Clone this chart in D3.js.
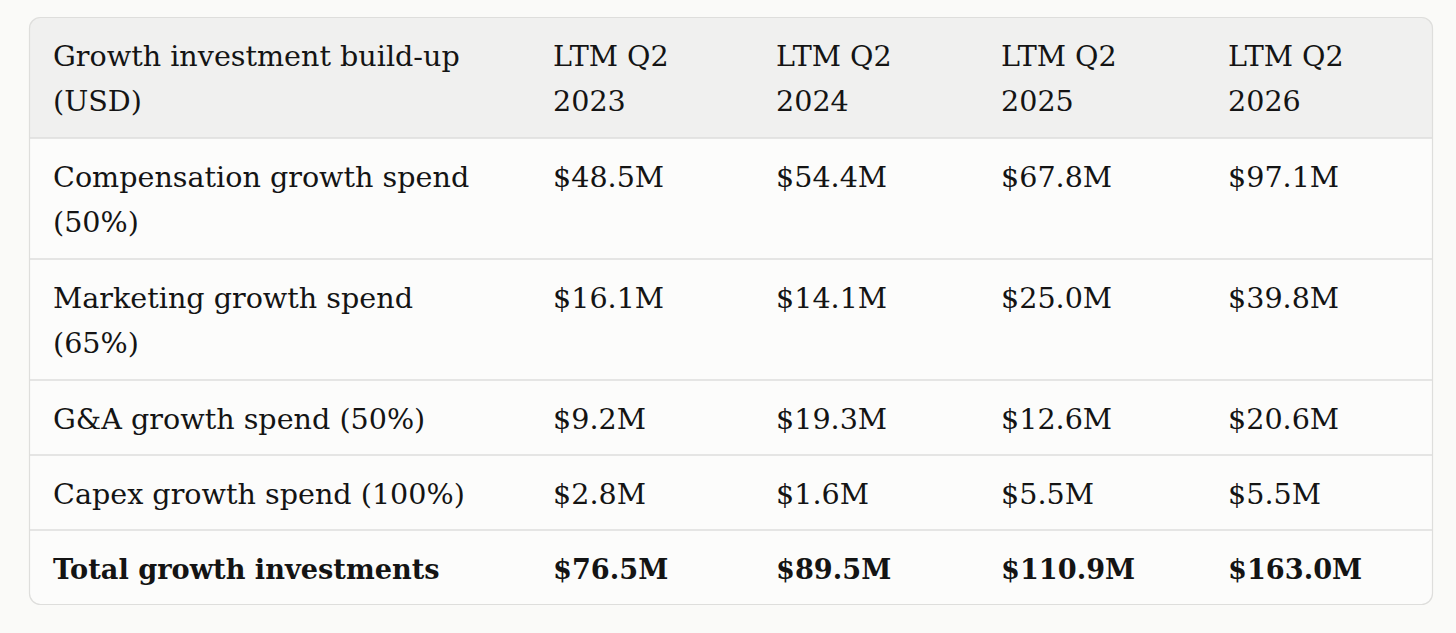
<!DOCTYPE html>
<html>
<head>
<meta charset="utf-8">
<script src="https://cdn.jsdelivr.net/npm/d3@7"></script>
<style>
  html, body { margin: 0; padding: 0; background: #fafaf8; }
  svg { display: block; }
</style>
</head>
<body>
<script>
var w = 1456;
var h = 633;

// table data
var headerLabel = "Growth investment build-up (USD)";
var periods = ["LTM Q2 2023", "LTM Q2 2024", "LTM Q2 2025", "LTM Q2 2026"];
var rowLabels = ["Compensation growth spend (50%)", "Marketing growth spend (65%)",
                 "G&A growth spend (50%)", "Capex growth spend (100%)"];
var compensation = [48.5, 54.4, 67.8, 97.1];
var marketing = [16.1, 14.1, 25.0, 39.8];
var gna = [9.2, 19.3, 12.6, 20.6];
var capex = [2.8, 1.6, 5.5, 5.5];
var totalLabel = "Total growth investments";
var totals = [76.5, 89.5, 110.9, 163.0];

var fmt = function(v){ return "$" + d3.format(".1f")(v) + "M"; };

// layout
var tableLeft = 29, tableTop = 17, tableW = 1404;
var colEdges = [0, 500, 723, 948, 1175, tableW];
var pad = 24;
var lineH = 45;
var fontSize = 28.6;
var boldSize = 27.2;
var textColor = "#141414";
var lineColor = "#dededc";

var rows = [{label: headerLabel, values: periods, header: true}]
  .concat(rowLabels.map(function(l, i){
      return {label: l, values: [compensation, marketing, gna, capex][i].map(fmt)};
  }))
  .concat([{label: totalLabel, values: totals.map(fmt), bold: true}]);

var svg = d3.select("body").append("svg")
    .attr("width", w)
    .attr("height", h);

// measure helper for wrapping
var meas = svg.append("text")
    .style("font-family", "'DejaVu Serif', serif")
    .attr("visibility", "hidden");

function wrap(str, maxW, bold) {
    meas.style("font-weight", bold ? "bold" : "normal")
        .style("font-size", (bold ? boldSize : fontSize) + "px");
    var words = str.split(" "), lines = [], cur = "";
    words.forEach(function(word){
        var test = cur ? cur + " " + word : word;
        meas.text(test);
        if (meas.node().getComputedTextLength() > maxW && cur) {
            lines.push(cur);
            cur = word;
        } else {
            cur = test;
        }
    });
    lines.push(cur);
    return lines;
}

rows.forEach(function(r){
    var cells = [r.label].concat(r.values);
    r.cells = cells.map(function(c, j){
        return wrap(c, colEdges[j+1] - colEdges[j] - 2*pad - 10, r.bold);
    });
    var n = d3.max(r.cells, function(c){ return c.length; });
    r.height = n * 46 + 29;
});
meas.remove();

var yPos = [0];
rows.forEach(function(r, i){ yPos.push(yPos[i] + r.height); });
var tableH = yPos[yPos.length - 1];

var x = d3.scaleOrdinal().domain(d3.range(colEdges.length)).range(colEdges);

var g = svg.append("g").attr("transform", "translate(" + tableLeft + "," + tableTop + ")");

svg.append("defs").append("clipPath").attr("id", "tableClip")
  .append("rect")
    .attr("width", tableW)
    .attr("height", tableH)
    .attr("rx", 11);

var body = g.append("g").attr("clip-path", "url(#tableClip)");

body.append("rect")
    .attr("width", tableW)
    .attr("height", tableH)
    .style("fill", "#fcfcfb");

body.append("rect")
    .attr("width", tableW)
    .attr("height", rows[0].height)
    .style("fill", "#f0f0ef");

// row separators
body.selectAll("line.sep")
    .data(yPos.slice(1, -1))
    .enter()
    .append("line")
    .attr("class", "sep")
    .attr("x1", 0)
    .attr("x2", tableW)
    .attr("y1", function(d){ return d; })
    .attr("y2", function(d){ return d; })
    .style("stroke", lineColor)
    .style("stroke-width", 1.5);

// outer border
g.append("rect")
    .attr("x", 0.5)
    .attr("y", 0.5)
    .attr("width", tableW - 1)
    .attr("height", tableH - 1)
    .attr("rx", 11)
    .style("fill", "none")
    .style("stroke", lineColor)
    .style("stroke-width", 1.2);

// text
var rowGroups = g.selectAll("g.row")
    .data(rows)
    .enter()
    .append("g")
    .attr("class", "row")
    .attr("transform", function(d, i){ return "translate(0," + yPos[i] + ")"; });

var cellText = rowGroups.selectAll("text")
    .data(function(r){ return r.cells.map(function(lines){ return {lines: lines, bold: r.bold}; }); })
    .enter()
    .append("text")
    .attr("x", function(d, j){ return x(j) + pad; })
    .attr("y", 49)
    .style("font-family", "'DejaVu Serif', serif")
    .style("font-size", function(d){ return (d.bold ? boldSize : fontSize) + "px"; })
    .style("font-weight", function(d){ return d.bold ? "bold" : "normal"; })
    .style("fill", textColor);

cellText.selectAll("tspan")
    .data(function(d){ return d.lines; })
    .enter()
    .append("tspan")
    .attr("x", function(){ return d3.select(this.parentNode).attr("x"); })
    .attr("dy", function(d, i){ return i === 0 ? 0 : lineH; })
    .text(function(d){ return d; });
</script>
</body>
</html>
